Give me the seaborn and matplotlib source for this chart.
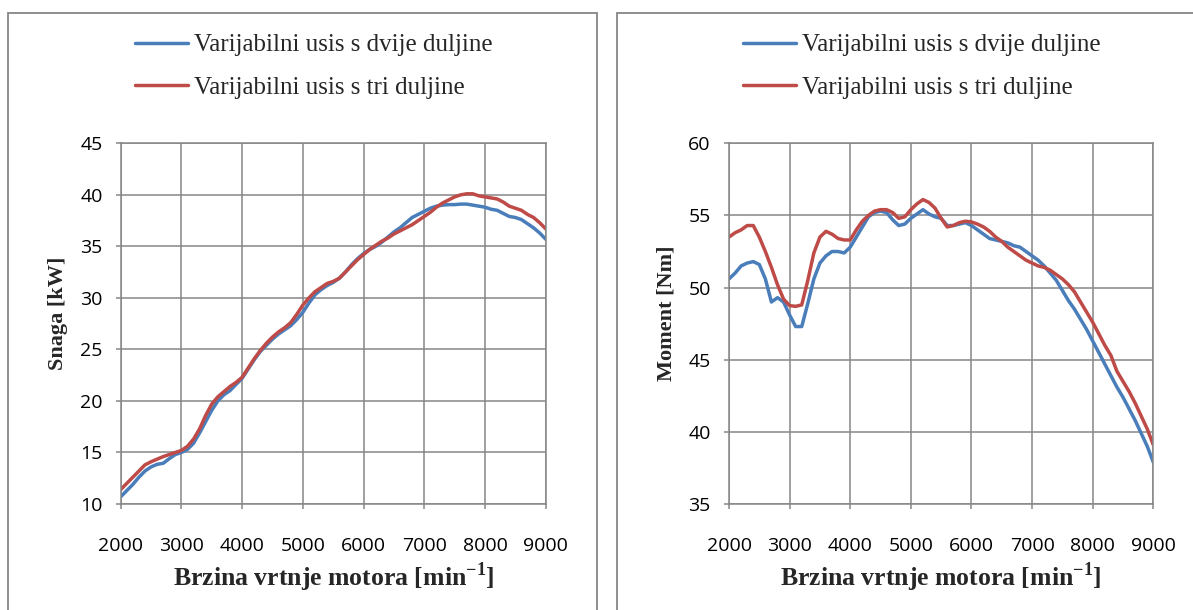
import numpy as np
import pandas as pd
import matplotlib
matplotlib.use("Agg")
import matplotlib.pyplot as plt
import seaborn as sns
from matplotlib.patches import Rectangle

# engine speed [min-1], 100 rpm steps
rpm = list(range(2000, 9001, 100))

# power [kW]
snaga_dvije = [10.7, 11.3, 11.9, 12.6, 13.2, 13.6, 13.85, 13.95, 14.4, 14.8,
               15.0, 15.3, 15.9, 16.9, 18.0, 19.1, 20.0, 20.6, 21.0, 21.6,
               22.2, 23.1, 24.0, 24.8, 25.4, 26.0, 26.5, 26.9, 27.3, 27.9,
               28.6, 29.5, 30.3, 30.8, 31.2, 31.5, 31.9, 32.5, 33.2, 33.8,
               34.3, 34.7, 35.0, 35.4, 35.9, 36.4, 36.8, 37.3, 37.8, 38.1,
               38.4, 38.7, 38.9, 39.0, 39.05, 39.05, 39.1, 39.1, 39.0, 38.9,
               38.8, 38.6, 38.5, 38.2, 37.9, 37.8, 37.6, 37.2, 36.8, 36.3,
               35.7]
snaga_tri = [11.4, 12.0, 12.6, 13.2, 13.8, 14.1, 14.35, 14.6, 14.8, 15.0,
             15.2, 15.6, 16.3, 17.3, 18.6, 19.7, 20.4, 20.9, 21.4, 21.8,
             22.3, 23.2, 24.1, 24.9, 25.6, 26.2, 26.7, 27.1, 27.6, 28.4,
             29.3, 30.0, 30.6, 31.0, 31.4, 31.6, 31.9, 32.5, 33.1, 33.7,
             34.2, 34.7, 35.1, 35.5, 35.8, 36.2, 36.5, 36.8, 37.1, 37.5,
             37.9, 38.3, 38.8, 39.2, 39.5, 39.8, 40.0, 40.1, 40.1, 39.9,
             39.8, 39.7, 39.6, 39.3, 38.9, 38.7, 38.5, 38.1, 37.8, 37.3,
             36.7]

# torque [Nm]
moment_dvije = [50.6, 51.0, 51.5, 51.7, 51.8, 51.6, 50.6, 49.0, 49.3, 49.0,
                48.1, 47.3, 47.3, 48.9, 50.6, 51.7, 52.2, 52.5, 52.5, 52.4,
                52.8, 53.5, 54.2, 54.9, 55.2, 55.3, 55.2, 54.7, 54.3, 54.4,
                54.8, 55.1, 55.4, 55.1, 54.9, 54.8, 54.3, 54.3, 54.4, 54.5,
                54.3, 54.0, 53.7, 53.4, 53.3, 53.2, 53.1, 52.9, 52.8, 52.5,
                52.2, 51.9, 51.5, 51.0, 50.5, 49.8, 49.1, 48.5, 47.8, 47.1,
                46.3, 45.5, 44.7, 43.9, 43.1, 42.4, 41.6, 40.8, 39.9, 39.0,
                37.9]
moment_tri = [53.5, 53.8, 54.0, 54.3, 54.3, 53.5, 52.5, 51.4, 50.2, 49.2,
              48.75, 48.7, 48.8, 50.5, 52.4, 53.5, 53.9, 53.7, 53.4, 53.3,
              53.3, 54.0, 54.6, 55.0, 55.3, 55.4, 55.4, 55.2, 54.8, 54.9,
              55.4, 55.8, 56.1, 55.9, 55.5, 54.8, 54.2, 54.3, 54.5, 54.6,
              54.55, 54.4, 54.2, 53.9, 53.5, 53.2, 52.8, 52.5, 52.2, 51.9,
              51.7, 51.5, 51.4, 51.2, 50.9, 50.6, 50.2, 49.7, 49.0, 48.3,
              47.6, 46.8, 46.0, 45.3, 44.2, 43.5, 42.8, 42.0, 41.1, 40.2,
              39.1]

labels = ["Varijabilni usis s dvije duljine", "Varijabilni usis s tri duljine"]
colors = ["#4A7EBB", "#BE4B48"]
x_ticks = list(range(2000, 9001, 1000))

sns.set_style("white")
plt.rcParams["font.family"] = ["Liberation Serif", "DejaVu Sans"]
plt.rcParams["mathtext.fontset"] = "custom"
plt.rcParams["mathtext.rm"] = "Liberation Serif"
plt.rcParams["mathtext.bf"] = "Liberation Serif:bold"

GRAY = "#868686"

fig = plt.figure(figsize=(11.93, 6.10), dpi=100)

# chart area borders
fig.patches.append(Rectangle((8 / 1193, -0.05), (596.7 - 8) / 1193, 1.05 - 13.3 / 610,
                             transform=fig.transFigure, fill=False, ec=GRAY, lw=1.3))
fig.patches.append(Rectangle((617.3 / 1193, -0.05), 0.6, 1.05 - 13.3 / 610,
                             transform=fig.transFigure, fill=False, ec=GRAY, lw=1.3))

ax1 = fig.add_axes([120.7 / 1193, 1 - 504 / 610, 425 / 1193, 360.7 / 610])
ax2 = fig.add_axes([729 / 1193, 1 - 504 / 610, 424.3 / 1193, 360.7 / 610])

panels = [
    (ax1, [snaga_dvije, snaga_tri], (10, 45), "Snaga [kW]", 135),
    (ax2, [moment_dvije, moment_tri], (35, 60), "Moment [Nm]", 743),
]

for ax, series, ylim, ylabel, leg_x in panels:
    for vals, lab, col in zip(series, labels, colors):
        sns.lineplot(x=rpm, y=vals, ax=ax, color=col, lw=2.5, label=lab)
    ax.set_xlim(2000, 9000)
    ax.set_ylim(*ylim)
    ax.set_xticks(x_ticks)
    ax.set_yticks(range(ylim[0], ylim[1] + 1, 5))
    ax.grid(True, color=GRAY, lw=1.1)
    ax.set_axisbelow(True)
    for s in ax.spines.values():
        s.set_color(GRAY)
        s.set_linewidth(1.1)
    ax.tick_params(axis="both", direction="out", length=3.6, width=1.1, color=GRAY,
                   labelsize=14, labelcolor="black")
    ax.tick_params(axis="y", pad=9.5, left=True)
    ax.tick_params(axis="x", pad=20, bottom=True)
    for t in ax.get_xticklabels() + ax.get_yticklabels():
        t.set_fontfamily("Open Sans")

    ax.set_xlabel(r"Brzina vrtnje motora [min$^{\mathbf{-1}}$]", fontsize=18.5,
                  fontweight="bold")
    ax.xaxis.label.set_va("center")
    ax.xaxis.set_label_coords(0.5, -0.202)
    ax.set_ylabel(ylabel, fontsize=16, fontweight="bold")
    ax.yaxis.label.set_va("center")
    ax.yaxis.set_label_coords(-0.147, 0.53)

    ax.legend(loc="upper left", bbox_to_anchor=(leg_x / 1193, 1 - 34 / 610),
              bbox_transform=fig.transFigure, frameon=False, fontsize=18,
              borderpad=0, borderaxespad=0, handlelength=2.1, handletextpad=0.25,
              labelspacing=0.8)

fig.savefig("out.png", dpi=100)
